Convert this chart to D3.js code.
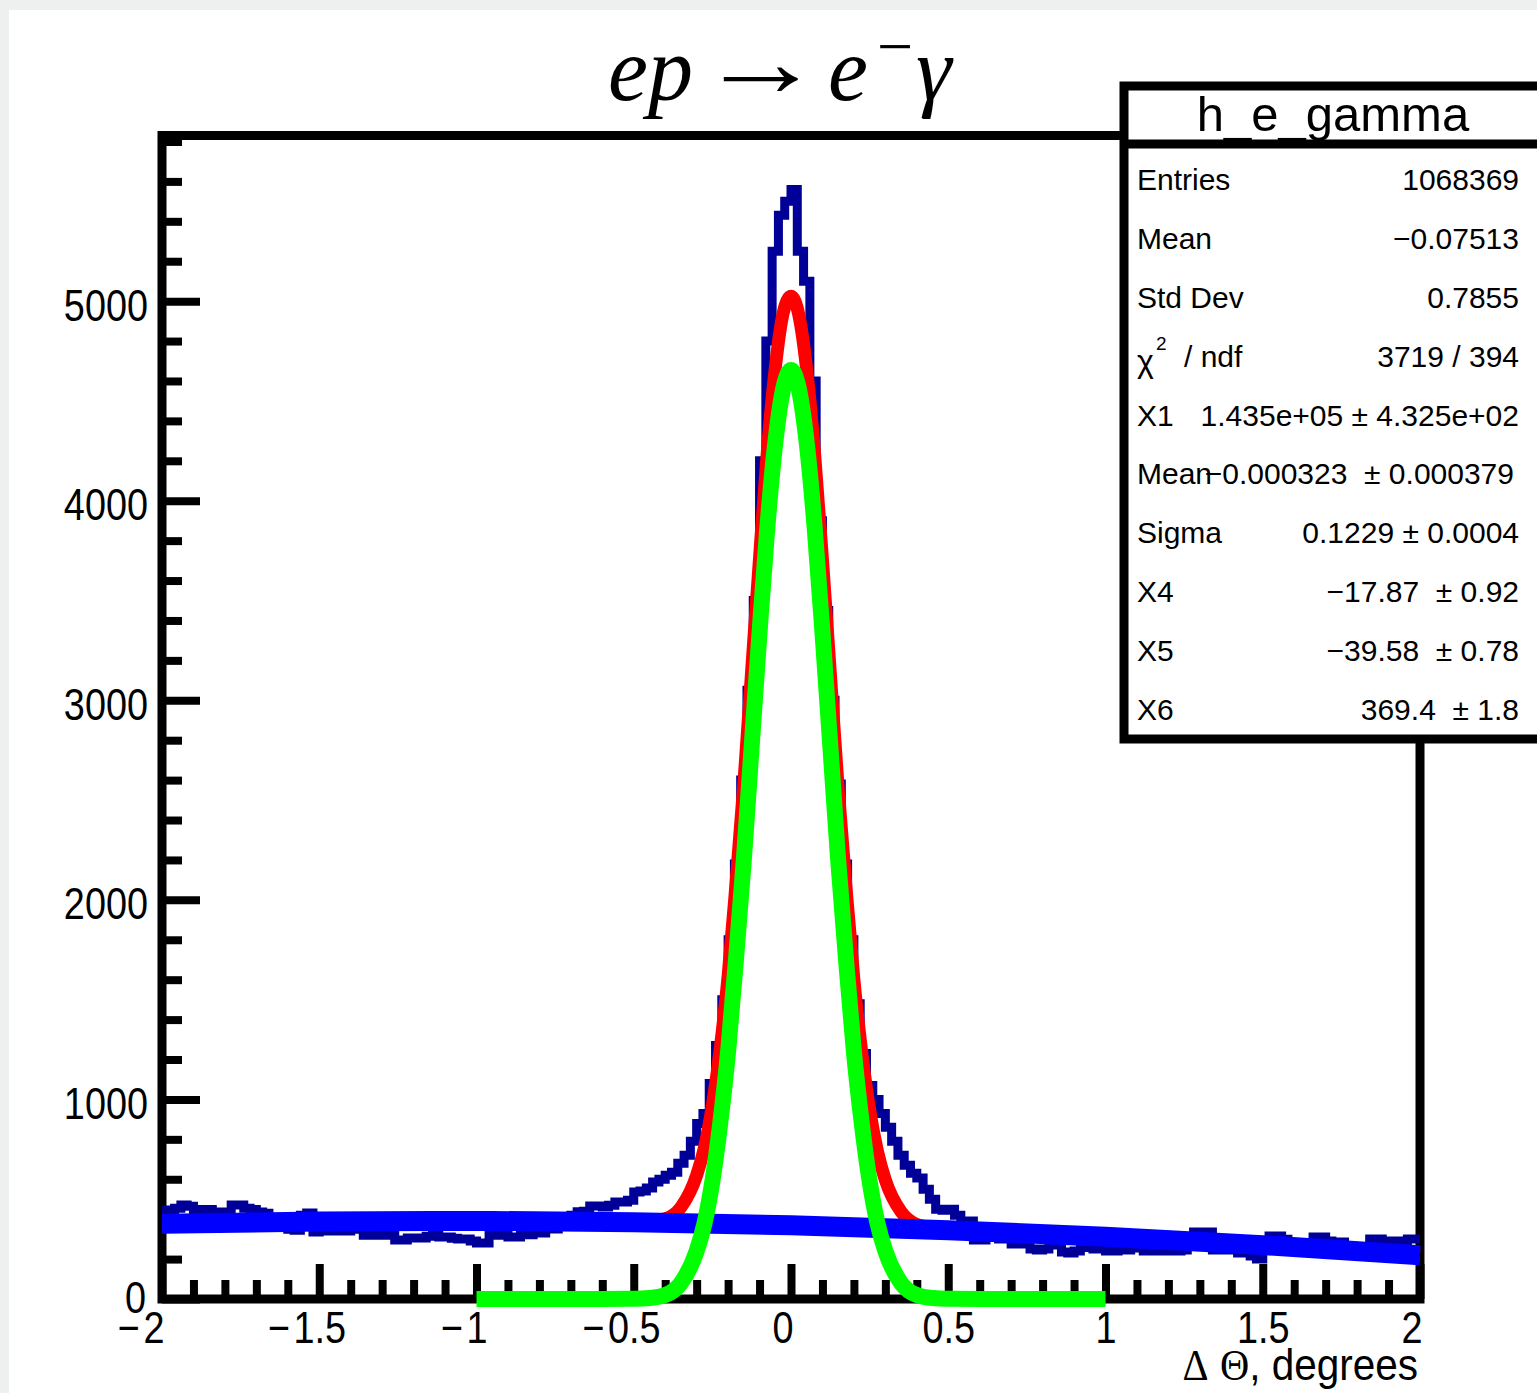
<!DOCTYPE html>
<html>
<head>
<meta charset="utf-8">
<script src="https://cdn.jsdelivr.net/npm/d3@7"></script>
<style>
html, body { margin: 0; padding: 0; background: #eef0ef; }
svg { display: block; }
.stat { white-space: pre; }
</style>
</head>
<body>
<div id="container"></div>
<script>
// h_e_gamma : 200 bins of 0.02 from -2 to 2, contents
var binLow = -2, binWidth = 0.02;
var histCounts = [
  446, 446, 455, 471, 465, 449, 449, 449, 436, 436,
  436, 471, 471, 455, 449, 436, 430, 395, 385, 390,
  350, 345, 420, 431, 336, 341, 341, 341, 341, 341,
  350, 370, 320, 320, 320, 320, 320, 296, 296, 306,
  306, 306, 315, 320, 311, 311, 305, 301, 301, 290,
  281, 281, 320, 320, 360, 311, 311, 322, 322, 331,
  331, 351, 351, 380, 385, 420, 437, 440, 466, 466,
  461, 470, 486, 486, 495, 536, 541, 556, 586, 600,
  620, 635, 680, 720, 790, 880, 930, 1080, 1270, 1500,
  1800, 2180, 2600, 3050, 3500, 4200, 4800, 5250, 5430, 5500,
  5560, 5250, 5100, 4600, 3900, 3450, 3000, 2580, 2180, 1800,
  1480, 1230, 1070, 1000, 930, 860, 790, 720, 670, 630,
  606, 550, 500, 450, 445, 450, 420, 391, 391, 296,
  296, 330, 320, 301, 301, 276, 276, 276, 250, 246,
  250, 271, 271, 235, 230, 240, 261, 258, 251, 251,
  240, 240, 246, 246, 256, 256, 240, 240, 240, 241,
  241, 241, 245, 300, 336, 336, 336, 246, 246, 246,
  246, 230, 230, 215, 200, 260, 316, 316, 300, 275,
  280, 275, 270, 311, 311, 290, 286, 286, 260, 255,
  250, 255, 301, 301, 291, 291, 291, 291, 301, 301
];

// total fit (red)
var totalX = [-2, -1.5, -1, -0.6, -0.5, -0.45, -0.4, -0.35, -0.3, -0.275, -0.25, -0.225, -0.2, -0.175, -0.15, -0.125, -0.1, -0.075, -0.05, -0.025, 0,
              0.025, 0.05, 0.075, 0.1, 0.125, 0.15, 0.175, 0.2, 0.225, 0.25, 0.275, 0.3, 0.35, 0.4, 0.45, 0.5, 0.6, 1, 1.5, 2];
var totalY = [377, 388, 391, 387, 385, 390, 402, 460, 620, 760, 970, 1255, 1617, 2080, 2580, 3150, 3715, 4250, 4665, 4940, 5025,
              4930, 4655, 4235, 3705, 3135, 2560, 2060, 1600, 1235, 948, 740, 596, 437, 373, 356, 346, 335, 312, 270, 219];

// background pol2 (blue)
var bgX = [-2, -1.5, -1, -0.5, 0, 0.5, 1, 1.5, 2];
var bgY = [377, 388, 391, 385, 369, 345, 312, 270, 219];

// gaussian signal (green), drawn on [-1, 1]
var sigX = [-1, -0.8, -0.6, -0.5, -0.45, -0.4, -0.35, -0.3, -0.275, -0.25, -0.225, -0.2, -0.175, -0.15, -0.125, -0.1, -0.075, -0.05, -0.025, 0,
            0.025, 0.05, 0.075, 0.1, 0.125, 0.15, 0.175, 0.2, 0.225, 0.25, 0.275, 0.3, 0.35, 0.4, 0.45, 0.5, 0.6, 0.8, 1];
var sigY = [0, 0, 0, 1, 5, 20, 80, 240, 380, 590, 880, 1240, 1700, 2200, 2770, 3340, 3870, 4290, 4560, 4655,
            4560, 4290, 3870, 3340, 2770, 2200, 1700, 1240, 880, 590, 380, 240, 80, 20, 5, 1, 0, 0, 0];

var xTickValues = [-2, -1.5, -1, -0.5, 0, 0.5, 1, 1.5, 2];
var xTickLabels = ["\u22122", "\u22121.5", "\u22121", "\u22120.5", "0", "0.5", "1", "1.5", "2"];
var yTickValues = [0, 1000, 2000, 3000, 4000, 5000];
var yTickLabels = ["0", "1000", "2000", "3000", "4000", "5000"];

var statNames = ["Entries", "Mean", "Std Dev", "", "X1", "Mean", "Sigma", "X4", "X5", "X6"];
var statValues = ["1068369", "\u22120.07513", "0.7855", "3719 / 394", "1.435e+05 \u00b1 4.325e+02",
                  "\u22120.000323  \u00b1 0.000379", "0.1229 \u00b1 0.0004", "\u221217.87  \u00b1 0.92",
                  "\u221239.58  \u00b1 0.78", "369.4  \u00b1 1.8"];

var W = 1537, H = 1393;
var svg = d3.select("div#container").append("svg").attr("width", W).attr("height", H);
svg.append("rect").attr("x", 9).attr("y", 10).attr("width", W).attr("height", H).attr("fill", "#fff");

var padL = 162, padR = 1420, padT = 135.5, padB = 1299;
var x = d3.scaleLinear().domain([-2, 2]).range([padL, padR]);
var y = d3.scaleLinear().domain([0, 5830]).range([padB, padT]);

var sans = "'Liberation Sans', Arial, Helvetica, sans-serif";
var serif = "'Liberation Serif', 'Times New Roman', serif";
var narrow = "scale(0.86,1)";

// minor ticks
var minorX = d3.range(-2, 2.0001, 0.1).filter(function(v) { return Math.abs(v * 2 - Math.round(v * 2)) > 1e-6; });
var minorY = d3.range(200, 5830, 200).filter(function(v) { return v % 1000 !== 0; });

var gxMinor = svg.append("g").attr("transform", "translate(0," + padB + ")")
  .call(d3.axisBottom(x).tickValues(minorX).tickSize(-19).tickFormat(""));
var gyMinor = svg.append("g").attr("transform", "translate(" + padL + ",0)")
  .call(d3.axisLeft(y).tickValues(minorY).tickSize(-20).tickFormat(""));

var gx = svg.append("g").attr("transform", "translate(0," + padB + ")")
  .call(d3.axisBottom(x).tickValues(xTickValues).tickSize(-35).tickPadding(13)
    .tickFormat(function(d, i) { return xTickLabels[i]; }));
var gy = svg.append("g").attr("transform", "translate(" + padL + ",0)")
  .call(d3.axisLeft(y).tickValues(yTickValues).tickSize(-38).tickPadding(14)
    .tickFormat(function(d, i) { return yTickLabels[i]; }));

[gxMinor, gyMinor, gx, gy].forEach(function(g) {
  g.select(".domain").remove();
  g.selectAll(".tick line").attr("stroke", "#000").attr("stroke-width", 8);
});

// ROOT puts whole-number labels (except 1) a bit left of the tick
gx.selectAll(".tick text")
  .attr("font-family", sans).attr("font-size", 44).attr("fill", "#000")
  .attr("transform", narrow)
  .each(function() {
    var t = d3.select(this), s = t.text();
    var num = s.replace("\u2212", "");
    var shift = (num.indexOf(".") < 0 && num !== "1") ? -10 : 0;
    t.text(num).attr("x", shift);
    if (s.charAt(0) === "\u2212") {
      var w = this.getComputedTextLength();
      d3.select(this.parentNode).append("text")
        .attr("font-family", sans).attr("font-size", 44).attr("fill", "#000")
        .attr("transform", narrow)
        .attr("text-anchor", "end")
        .attr("x", shift - w / 2 - 4).attr("y", t.attr("y")).attr("dy", "0.71em")
        .text("\u2212");
    }
  });

// the zero label sits a little higher, right on the axis line
gy.selectAll(".tick text")
  .attr("font-family", sans).attr("font-size", 44).attr("fill", "#000")
  .attr("x", function(d) { return (d === 0 ? -16 : -14) / 0.86; })
  .attr("dy", function(d) { return d === 0 ? "0.31em" : "0.43em"; })
  .attr("transform", narrow);

// frame
svg.append("rect").attr("x", padL).attr("y", padT).attr("width", padR - padL).attr("height", padB - padT)
  .attr("fill", "none").attr("stroke", "#000").attr("stroke-width", 9);

// histogram outline
var steps = [];
histCounts.forEach(function(c, i) {
  steps.push([binLow + i * binWidth, c]);
  steps.push([binLow + (i + 1) * binWidth, c]);
});
var stepLine = d3.line().x(function(d) { return x(d[0]); }).y(function(d) { return y(d[1]); });
svg.append("path").datum(steps).attr("d", stepLine)
  .attr("fill", "none").attr("stroke", "#000099").attr("stroke-width", 9).attr("stroke-linejoin", "miter");

function curve(xs, ys, color, width) {
  var pts = xs.map(function(v, i) { return [v, ys[i]]; });
  var line = d3.line().x(function(d) { return x(d[0]); }).y(function(d) { return y(d[1]); })
    .curve(d3.curveMonotoneX);
  svg.append("path").datum(pts).attr("d", line)
    .attr("fill", "none").attr("stroke", color).attr("stroke-width", width)
    .attr("stroke-linejoin", "miter");
}
curve(totalX, totalY, "#ff0000", 13);
curve(bgX, bgY, "#0000ff", 20);
curve(sigX, sigY, "#00ff00", 16);

// x axis title
var xt = svg.append("text").attr("transform", "translate(1418,1380) scale(0.9,1)")
  .attr("text-anchor", "end").attr("font-family", sans).attr("font-size", 45).attr("fill", "#000");
xt.append("tspan").attr("font-family", serif).text("\u0394");
xt.append("tspan").text(" ");
xt.append("tspan").attr("font-family", serif).text("\u0398");
xt.append("tspan").text(", degrees");

// title  ep -> e^- gamma
var tg = svg.append("g").attr("font-family", serif).attr("fill", "#000");
tg.append("text").attr("x", 608).attr("y", 100).attr("font-size", 90).attr("font-style", "italic").text("ep");
tg.append("text").attr("transform", "translate(698,96) scale(1.25,1)").attr("font-size", 100).text("\u2192");
tg.append("text").attr("x", 828).attr("y", 100).attr("font-size", 90).attr("font-style", "italic").text("e");
tg.append("text").attr("x", 877).attr("y", 68).attr("font-size", 64).text("\u2212");
tg.append("text").attr("x", 916).attr("y", 100).attr("font-size", 90).attr("font-style", "italic").text("\u03b3");

// stats box
var box = svg.append("g");
box.append("rect").attr("x", 1124).attr("y", 86).attr("width", 460).attr("height", 653)
  .attr("fill", "#fff").attr("stroke", "#000").attr("stroke-width", 9);
box.append("line").attr("x1", 1124).attr("x2", 1600).attr("y1", 144).attr("y2", 144)
  .attr("stroke", "#000").attr("stroke-width", 9);
box.append("text").attr("x", 1333).attr("y", 131).attr("text-anchor", "middle")
  .attr("font-family", sans).attr("font-size", 49).attr("fill", "#000").text("h_e_gamma");

var rowY = d3.scaleLinear().domain([0, statNames.length - 1]).range([190, 720]);
statNames.forEach(function(n, i) {
  box.append("text").attr("class", "stat").attr("x", 1137).attr("y", rowY(i))
    .attr("font-family", sans).attr("font-size", 30).attr("fill", "#000").text(n);
  box.append("text").attr("class", "stat").attr("x", i === 5 ? 1514 : 1519).attr("y", rowY(i)).attr("text-anchor", "end")
    .attr("font-family", sans).attr("font-size", 30).attr("fill", "#000").text(statValues[i]);
});
// chi2 / ndf label
var chiY = rowY(3);
box.append("text").attr("x", 1137).attr("y", chiY + 5).attr("font-family", sans).attr("font-size", 32).text("\u03c7");
box.append("text").attr("x", 1156).attr("y", chiY - 17).attr("font-family", sans).attr("font-size", 19).text("2");
box.append("text").attr("x", 1184).attr("y", chiY).attr("font-family", sans).attr("font-size", 30).text("/ ndf");
</script>
</body>
</html>
